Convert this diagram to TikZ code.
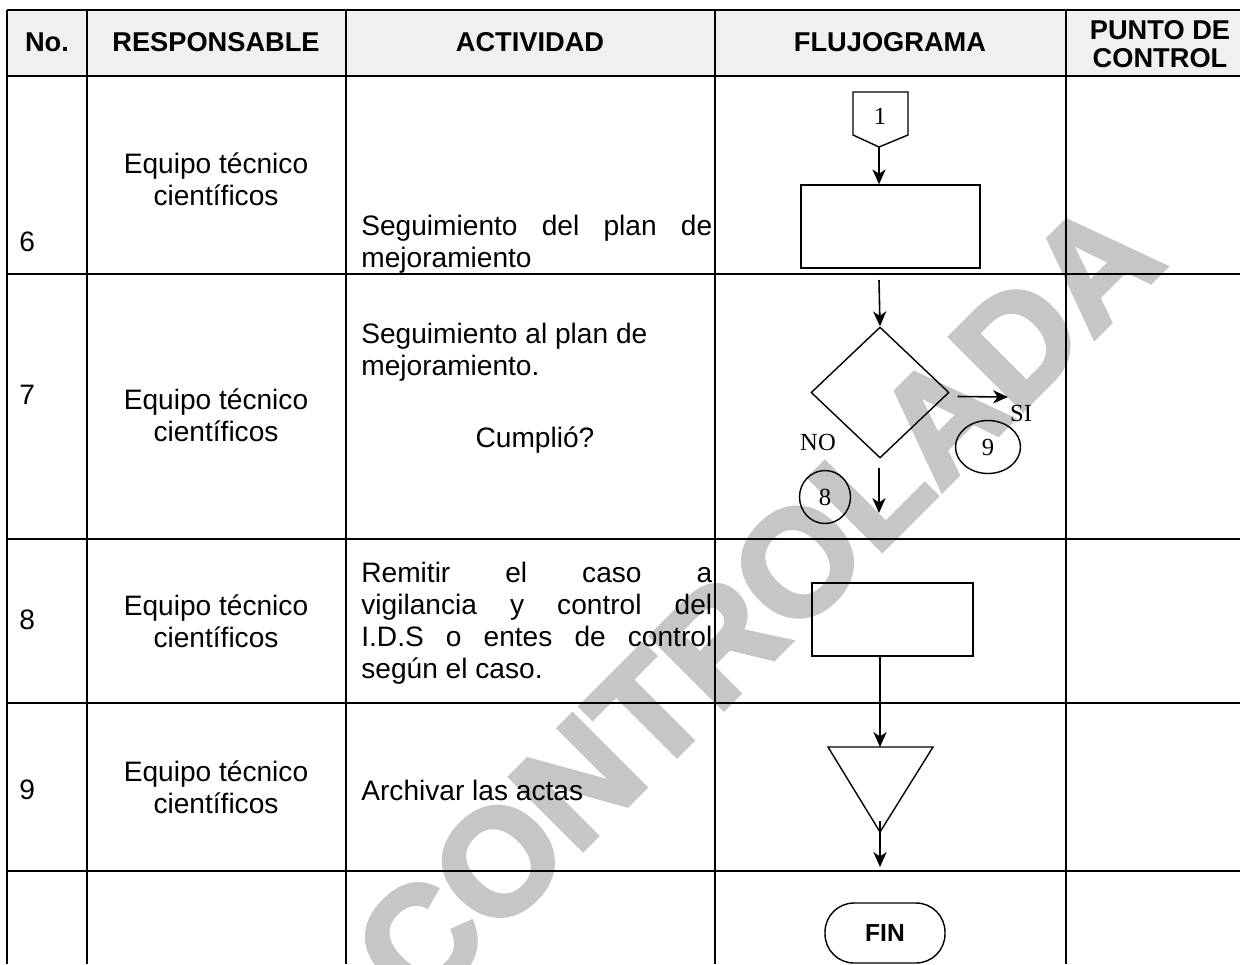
\documentclass[tikz,border=0pt]{standalone}
\usepackage{fontspec}
\setmainfont{Liberation Sans}
\newfontfamily\timesfont{Liberation Serif}
\newfontfamily\wmfont[FakeBold=3]{Liberation Sans}
\usetikzlibrary{calc,arrows.meta,shapes.geometric}

\begin{document}
\begin{tikzpicture}[x=0.02cm,y=-0.02cm,
  grid/.style={line width=1.6pt},
  shp/.style={draw,line width=0.8pt,inner sep=0pt},
  arr/.style={-{Stealth[length=8.5pt,width=7.5pt,inset=2.5pt]},line width=0.9pt},
  head/.style={font=\bfseries\fontsize{15.5}{16}\selectfont,align=center,inner sep=0pt},
  txt/.style={font=\fontsize{16}{18.2}\selectfont,inner sep=0pt},
  act/.style={txt,anchor=west,text width=7.02cm,align=justify},
  lbl/.style={font=\timesfont\fontsize{14}{16}\selectfont,inner sep=0pt}]

\useasboundingbox (0,0) rectangle (1240,964);

% marca de agua
\node[rotate=45,text=gray!45,font=\wmfont\bfseries\fontsize{85}{85}\selectfont] (marca) at (575,785) {COPIA CONTROLADA};

% tabla
\fill[gray!12] (7,10) rectangle (1240,76);
\draw[grid] (7,10) -- (1240,10);
\foreach \y in {76,274,539,703,871} \draw[grid] (7,\y) -- (1240,\y);
\foreach \x in {7,87,346,715,1066} \draw[grid] (\x,10) -- (\x,964);

\node[head] (hno) at (47,42) {No.};
\node[head] (hresp) at (216,42) {RESPONSABLE};
\node[head] (hact) at (530,42) {ACTIVIDAD};
\node[head] (hflujo) at (890,42) {FLUJOGRAMA};
\node[head] (hpunto) at (1160,44) {PUNTO DE\\CONTROL};

% fila 6
\node[txt,anchor=west] (n6) at (19,242) {6};
\node[txt,align=center] (r6) at (216,179) {Equipo técnico\\científicos};
\node[act] (a6) at (361,244) {Seguimiento del plan de\linebreak mejoramiento};

\coordinate (c1tip) at (879,147);
\draw[shp] (853,92) -- (908,92) -- (908,135) -- (c1tip) -- (853,135) -- cycle;
\node[lbl] (c1) at (880,116) {1};
\node[shp,minimum width=3.58cm,minimum height=1.66cm] (box6) at (890.5,226.5) {};
\draw[arr] (c1tip) -- (c1tip |- box6.north);

% fila 7
\node[txt,anchor=west] (n7) at (19,395) {7};
\node[txt,align=center] (r7) at (216,415) {Equipo técnico\\científicos};
\node[txt,anchor=west,align=left] (a7) at (361,352) {Seguimiento al plan de\\mejoramiento.};
\node[txt] (q7) at (535,440) {Cumplió?};

\coordinate (in7) at (879,280);
\node[shp,diamond,minimum width=2.76cm,minimum height=2.62cm] (dec) at (880,392.5) {};
\draw[arr] (in7) -- (dec.north);
\coordinate (siend) at (1008,397);
\draw[arr] (dec.east) ++(8,4) -- (siend);
\node[lbl] (si) at (1021,413) {SI};
\node[shp,lbl,draw,ellipse,minimum width=1.3cm,minimum height=1.06cm] (k9) at (988,447) {9};
\node[lbl] (no) at (818,442) {NO};
\node[shp,lbl,draw,ellipse,minimum width=1.02cm,minimum height=1.06cm] (k8) at (825,497) {8};
\coordinate (noend) at (879,513);
\draw[arr] (dec.south) ++(-1,9) -- (noend);

% fila 8
\node[txt,anchor=west] (n8) at (19,620) {8};
\node[txt,align=center] (r8) at (216,621) {Equipo técnico\\científicos};
\node[act] (a8) at (361,623) {Remitir el caso a\linebreak vigilancia y control del\linebreak I.D.S o entes de control\linebreak según el caso.};

\node[shp,minimum width=3.22cm,minimum height=1.46cm] (box8) at (892.5,619.5) {};
\coordinate (triTop) at (880,747);
\coordinate (triTip) at (880,832);
\draw[arr] (box8.south -| triTop) -- (triTop);

% fila 9
\node[txt,anchor=west] (n9) at (19,790) {9};
\node[txt,align=center] (r9) at (216,787) {Equipo técnico\\científicos};
\node[txt,anchor=west] (a9) at (361,790) {Archivar las actas};

\draw[shp] (828,747) -- (933,747) -- (triTip) -- cycle;
\coordinate (out9) at (880,867);
\draw[arr] ($(triTip)+(0,-11)$) -- (out9);

% fin
\node[shp,rounded corners=0.58cm,minimum width=2.4cm,minimum height=1.2cm,font=\bfseries\fontsize{14}{16}\selectfont] (fin) at (885,933) {FIN};

\end{tikzpicture}
\end{document}
